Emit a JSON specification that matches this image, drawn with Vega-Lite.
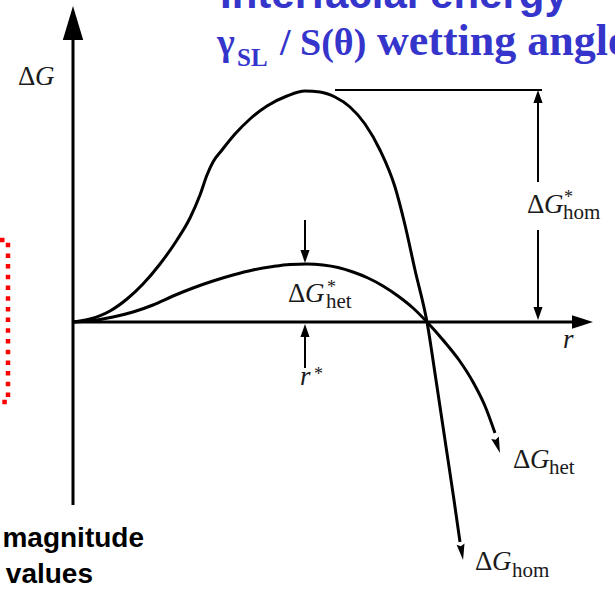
{
  "$schema": "https://vega.github.io/schema/vega-lite/v6.json",
  "width": 615,
  "height": 592,
  "padding": 0,
  "autosize": {"type": "none"},
  "background": "white",
  "config": {"view": {"stroke": null}},
  "datasets": {
    "curves": [
      {"curve": "hom", "r": 0, "g": 0}, {"curve": "hom", "r": 17, "g": 3}, {"curve": "hom", "r": 37, "g": 11},
      {"curve": "hom", "r": 54, "g": 23}, {"curve": "hom", "r": 70, "g": 38}, {"curve": "hom", "r": 87, "g": 58},
      {"curve": "hom", "r": 104, "g": 82}, {"curve": "hom", "r": 117, "g": 104}, {"curve": "hom", "r": 127, "g": 127},
      {"curve": "hom", "r": 134, "g": 147}, {"curve": "hom", "r": 140, "g": 160}, {"curve": "hom", "r": 149, "g": 172},
      {"curve": "hom", "r": 162, "g": 188}, {"curve": "hom", "r": 177, "g": 203}, {"curve": "hom", "r": 194, "g": 216},
      {"curve": "hom", "r": 214, "g": 226}, {"curve": "hom", "r": 232, "g": 231}, {"curve": "hom", "r": 247, "g": 230},
      {"curve": "hom", "r": 262, "g": 225}, {"curve": "hom", "r": 277, "g": 215}, {"curve": "hom", "r": 292, "g": 198},
      {"curve": "hom", "r": 307, "g": 172}, {"curve": "hom", "r": 322, "g": 135}, {"curve": "hom", "r": 332, "g": 97},
      {"curve": "hom", "r": 342, "g": 52}, {"curve": "hom", "r": 354, "g": 0}, {"curve": "hom", "r": 363, "g": -58},
      {"curve": "hom", "r": 372, "g": -118}, {"curve": "hom", "r": 381, "g": -178}, {"curve": "hom", "r": 387, "g": -220},
      {"curve": "het", "r": 0, "g": 0}, {"curve": "het", "r": 20, "g": 1.5}, {"curve": "het", "r": 40, "g": 5},
      {"curve": "het", "r": 60, "g": 10}, {"curve": "het", "r": 80, "g": 17}, {"curve": "het", "r": 100, "g": 26},
      {"curve": "het", "r": 120, "g": 34}, {"curve": "het", "r": 140, "g": 41}, {"curve": "het", "r": 160, "g": 47},
      {"curve": "het", "r": 180, "g": 52}, {"curve": "het", "r": 200, "g": 55.5}, {"curve": "het", "r": 217, "g": 57.5},
      {"curve": "het", "r": 234, "g": 58}, {"curve": "het", "r": 250, "g": 57}, {"curve": "het", "r": 265, "g": 54.5},
      {"curve": "het", "r": 280, "g": 50}, {"curve": "het", "r": 295, "g": 44}, {"curve": "het", "r": 310, "g": 36},
      {"curve": "het", "r": 325, "g": 26}, {"curve": "het", "r": 340, "g": 14}, {"curve": "het", "r": 354, "g": 0},
      {"curve": "het", "r": 370, "g": -18}, {"curve": "het", "r": 386, "g": -38}, {"curve": "het", "r": 400, "g": -60},
      {"curve": "het", "r": 412, "g": -84}, {"curve": "het", "r": 422, "g": -111}
    ],
    "axes": [
      {"id": "yaxis", "k": 0, "r": 0, "g": -183}, {"id": "yaxis", "k": 1, "r": 0, "g": 282},
      {"id": "xaxis", "k": 0, "r": 0, "g": 0}, {"id": "xaxis", "k": 1, "r": 499, "g": 0}
    ],
    "guides": [
      {"id": "peak", "k": 0, "r": 262, "g": 232}, {"id": "peak", "k": 1, "r": 469, "g": 232},
      {"id": "dimtop", "k": 0, "r": 465, "g": 219}, {"id": "dimtop", "k": 1, "r": 465, "g": 140},
      {"id": "dimbot", "k": 0, "r": 465, "g": 92}, {"id": "dimbot", "k": 1, "r": 465, "g": 14},
      {"id": "hetpk", "k": 0, "r": 232, "g": 102}, {"id": "hetpk", "k": 1, "r": 232, "g": 71},
      {"id": "rstar", "k": 0, "r": 232, "g": -14}, {"id": "rstar", "k": 1, "r": 232, "g": -46}
    ],
    "bracket": [
      {"k": 0, "r": -73, "g": 82}, {"k": 1, "r": -65, "g": 82},
      {"k": 2, "r": -65, "g": -80}, {"k": 3, "r": -74, "g": -80}
    ],
    "heads": [
      {"id": "yaxis", "r": 0, "g": 299},
      {"id": "xaxis", "r": 509.5, "g": 0},
      {"id": "dimtop", "r": 465, "g": 225.5},
      {"id": "rstar", "r": 232, "g": -8.5},
      {"id": "dimbot", "r": 465, "g": 8.5},
      {"id": "hetpk", "r": 232, "g": 65.5},
      {"id": "hetend", "r": 424.5, "g": -123.4},
      {"id": "homend", "r": 388.8, "g": -230.1}
    ],
    "labels": [
      {"role": "delta", "r": -55, "g": 237, "text": "Δ"},
      {"role": "ital", "r": -38, "g": 237, "text": "G"},
      {"role": "delta", "r": 454, "g": 109, "text": "Δ"},
      {"role": "ital", "r": 471, "g": 109, "text": "G"},
      {"role": "star", "r": 491, "g": 119, "text": "*"},
      {"role": "sub", "r": 490, "g": 103, "text": "hom"},
      {"role": "delta", "r": 215, "g": 20, "text": "Δ"},
      {"role": "ital", "r": 232, "g": 20, "text": "G"},
      {"role": "star", "r": 254, "g": 29, "text": "*"},
      {"role": "sub", "r": 253, "g": 14, "text": "het"},
      {"role": "delta", "r": 440, "g": -146, "text": "Δ"},
      {"role": "ital", "r": 457, "g": -146, "text": "G"},
      {"role": "sub", "r": 476, "g": -152, "text": "het"},
      {"role": "delta", "r": 402, "g": -248, "text": "Δ"},
      {"role": "ital", "r": 419, "g": -248, "text": "G"},
      {"role": "sub", "r": 439, "g": -255, "text": "hom"},
      {"role": "ital", "r": 490, "g": -26, "text": "r"},
      {"role": "ital", "r": 227, "g": -63, "text": "r"},
      {"role": "star", "r": 241, "g": -58, "text": "*"},
      {"role": "t1", "r": 147, "g": 314, "text": "Interfacial energy"},
      {"role": "t2", "r": 144, "g": 267, "text": "γ"},
      {"role": "t2sub", "r": 164, "g": 256, "text": "SL"},
      {"role": "t2", "r": 207, "g": 267, "text": "/ S(θ)"},
      {"role": "t2wide", "r": 304, "g": 267, "text": "wetting angle"},
      {"role": "note", "r": 71, "g": -225, "text": "magnitude"},
      {"role": "note", "r": 20, "g": -261, "text": "values"}
    ]
  },
  "encoding": {
    "x": {"field": "r", "type": "quantitative", "scale": {"domain": [-73, 542], "nice": false, "zero": false}, "axis": null},
    "y": {"field": "g", "type": "quantitative", "scale": {"domain": [-270, 322], "nice": false, "zero": false}, "axis": null}
  },
  "layer": [
    {
      "data": {"name": "bracket"},
      "mark": {"type": "line", "color": "#ff0000", "strokeWidth": 4.5, "strokeDash": [4.5, 6.2], "strokeCap": "butt"},
      "encoding": {"order": {"field": "k"}}
    },
    {
      "data": {"name": "axes"},
      "mark": {"type": "line", "color": "black", "strokeWidth": 3},
      "encoding": {"detail": {"field": "id"}, "order": {"field": "k"}}
    },
    {
      "data": {"name": "guides"},
      "mark": {"type": "line", "color": "black", "strokeWidth": 2},
      "encoding": {"detail": {"field": "id"}, "order": {"field": "k"}}
    },
    {
      "data": {"name": "curves"},
      "mark": {"type": "line", "color": "black", "strokeWidth": 3, "interpolate": "monotone"},
      "encoding": {"detail": {"field": "curve"}, "order": {"field": "r"}}
    },
    {
      "data": {"name": "heads"},
      "transform": [{"filter": "datum.id == 'yaxis'"}],
      "mark": {"type": "point", "shape": "M0,-1L0.6,1L-0.6,1Z", "filled": true, "color": "black", "opacity": 1, "size": 1156, "angle": 0, "strokeWidth": 0}
    },
    {
      "data": {"name": "heads"},
      "transform": [{"filter": "datum.id == 'xaxis'"}],
      "mark": {"type": "point", "shape": "M0,-1L0.65,1L-0.65,1Z", "filled": true, "color": "black", "opacity": 1, "size": 441, "angle": 90, "strokeWidth": 0}
    },
    {
      "data": {"name": "heads"},
      "transform": [{"filter": "datum.id == 'dimtop' || datum.id == 'rstar'"}],
      "mark": {"type": "point", "shape": "M0,-1L0.7,1L-0.7,1Z", "filled": true, "color": "black", "opacity": 1, "size": 169, "angle": 0, "strokeWidth": 0}
    },
    {
      "data": {"name": "heads"},
      "transform": [{"filter": "datum.id == 'dimbot' || datum.id == 'hetpk'"}],
      "mark": {"type": "point", "shape": "M0,-1L0.7,1L-0.7,1Z", "filled": true, "color": "black", "opacity": 1, "size": 169, "angle": 180, "strokeWidth": 0}
    },
    {
      "data": {"name": "heads"},
      "transform": [{"filter": "datum.id == 'hetend'"}],
      "mark": {"type": "point", "shape": "M0,-1L0.5,1L0,0.75L-0.5,1Z", "filled": true, "color": "black", "opacity": 1, "size": 256, "angle": 162, "strokeWidth": 0}
    },
    {
      "data": {"name": "heads"},
      "transform": [{"filter": "datum.id == 'homend'"}],
      "mark": {"type": "point", "shape": "M0,-1L0.5,1L0,0.75L-0.5,1Z", "filled": true, "color": "black", "opacity": 1, "size": 256, "angle": 171, "strokeWidth": 0}
    },
    {
      "data": {"name": "labels"},
      "transform": [{"filter": "datum.role == 'delta'"}],
      "mark": {"type": "text", "font": "Liberation Serif", "fontSize": 27, "align": "left", "baseline": "alphabetic", "color": "#1a1a1a"},
      "encoding": {"text": {"field": "text"}}
    },
    {
      "data": {"name": "labels"},
      "transform": [{"filter": "datum.role == 'ital'"}],
      "mark": {"type": "text", "font": "Liberation Serif", "fontSize": 27, "fontStyle": "italic", "align": "left", "baseline": "alphabetic", "color": "#1a1a1a"},
      "encoding": {"text": {"field": "text"}}
    },
    {
      "data": {"name": "labels"},
      "transform": [{"filter": "datum.role == 'sub'"}],
      "mark": {"type": "text", "font": "Liberation Serif", "fontSize": 21, "align": "left", "baseline": "alphabetic", "color": "#1a1a1a"},
      "encoding": {"text": {"field": "text"}}
    },
    {
      "data": {"name": "labels"},
      "transform": [{"filter": "datum.role == 'star'"}],
      "mark": {"type": "text", "font": "Liberation Serif", "fontSize": 18, "align": "left", "baseline": "alphabetic", "color": "#1a1a1a"},
      "encoding": {"text": {"field": "text"}}
    },
    {
      "data": {"name": "labels"},
      "transform": [{"filter": "datum.role == 't1'"}],
      "mark": {"type": "text", "font": "Liberation Sans", "fontSize": 42, "fontWeight": "bold", "align": "left", "baseline": "alphabetic", "color": "#3535cc"},
      "encoding": {"text": {"field": "text"}}
    },
    {
      "data": {"name": "labels"},
      "transform": [{"filter": "datum.role == 't2'"}],
      "mark": {"type": "text", "font": "Liberation Serif", "fontSize": 38, "fontWeight": "bold", "align": "left", "baseline": "alphabetic", "color": "#3535cc"},
      "encoding": {"text": {"field": "text"}}
    },
    {
      "data": {"name": "labels"},
      "transform": [{"filter": "datum.role == 't2wide'"}],
      "mark": {"type": "text", "font": "Liberation Serif", "fontSize": 44, "fontWeight": "bold", "align": "left", "baseline": "alphabetic", "color": "#3535cc"},
      "encoding": {"text": {"field": "text"}}
    },
    {
      "data": {"name": "labels"},
      "transform": [{"filter": "datum.role == 't2sub'"}],
      "mark": {"type": "text", "font": "Liberation Serif", "fontSize": 25, "fontWeight": "bold", "align": "left", "baseline": "alphabetic", "color": "#3535cc"},
      "encoding": {"text": {"field": "text"}}
    },
    {
      "data": {"name": "labels"},
      "transform": [{"filter": "datum.role == 'note'"}],
      "mark": {"type": "text", "font": "Liberation Sans", "fontSize": 28, "fontWeight": "bold", "align": "right", "baseline": "alphabetic", "color": "black"},
      "encoding": {"text": {"field": "text"}}
    }
  ]
}
